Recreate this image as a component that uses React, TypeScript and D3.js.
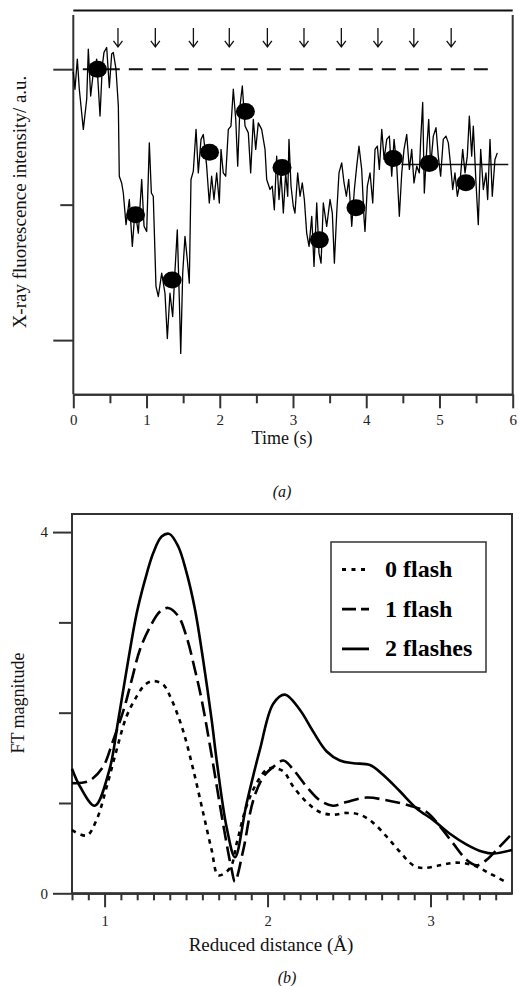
import * as React from 'react';
import * as d3 from 'd3';

// ---------- panel (a): fluorescence trace ----------
const TRACE: [number, number][] = [
    [0.0, 0.99], [0.023, 0.926], [0.055, 1.037], [0.082, 0.926], [0.137, 0.778], [0.183, 0.889], [0.205, 1.074],
    [0.237, 0.901], [0.273, 0.988], [0.319, 1.037], [0.365, 0.827], [0.396, 1.012], [0.419, 1.062], [0.456, 1.08],
    [0.492, 0.932], [0.524, 1.056], [0.546, 1.062], [0.583, 1.0], [0.615, 0.864], [0.628, 0.605], [0.66, 0.58],
    [0.683, 0.543], [0.72, 0.426], [0.765, 0.519], [0.806, 0.346], [0.843, 0.481], [0.888, 0.395], [0.934, 0.593],
    [0.966, 0.42], [1.002, 0.401], [1.038, 0.728], [1.066, 0.543], [1.092, 0.531], [1.129, 0.198], [1.161, 0.161],
    [1.207, 0.247], [1.252, 0.173], [1.284, 0.006], [1.32, 0.173], [1.357, 0.087], [1.389, 0.259], [1.42, 0.407],
    [1.448, 0.148], [1.467, -0.049], [1.494, 0.247], [1.525, 0.383], [1.557, 0.296], [1.584, 0.21], [1.607, 0.593],
    [1.639, 0.624], [1.676, 0.778], [1.707, 0.617], [1.744, 0.741], [1.775, 0.759], [1.798, 0.704], [1.821, 0.642],
    [1.857, 0.506], [1.889, 0.605], [1.921, 0.519], [1.958, 0.617], [1.994, 0.506], [2.017, 0.704], [2.048, 0.617],
    [2.081, 0.605], [2.117, 0.778], [2.153, 0.79], [2.185, 0.926], [2.218, 0.815], [2.245, 0.642], [2.276, 0.864],
    [2.308, 0.938], [2.345, 0.79], [2.39, 0.765], [2.422, 0.617], [2.458, 0.815], [2.491, 0.704], [2.526, 0.802],
    [2.572, 0.778], [2.618, 0.704], [2.641, 0.593], [2.686, 0.556], [2.717, 0.568], [2.745, 0.481], [2.777, 0.679],
    [2.809, 0.519], [2.836, 0.617], [2.868, 0.469], [2.9, 0.617], [2.928, 0.531], [2.945, 0.741], [2.973, 0.568],
    [3.004, 0.494], [3.027, 0.469], [3.064, 0.617], [3.096, 0.531], [3.127, 0.58], [3.155, 0.519], [3.187, 0.395],
    [3.219, 0.346], [3.256, 0.457], [3.287, 0.272], [3.324, 0.506], [3.355, 0.321], [3.383, 0.284], [3.414, 0.506],
    [3.46, 0.42], [3.506, 0.519], [3.537, 0.469], [3.565, 0.284], [3.597, 0.469], [3.628, 0.617], [3.665, 0.654],
    [3.697, 0.58], [3.729, 0.531], [3.761, 0.593], [3.802, 0.42], [3.838, 0.556], [3.87, 0.642], [3.901, 0.716],
    [3.938, 0.63], [3.97, 0.45], [3.983, 0.401], [4.015, 0.568], [4.052, 0.617], [4.089, 0.506], [4.12, 0.704],
    [4.152, 0.716], [4.179, 0.63], [4.212, 0.778], [4.244, 0.667], [4.28, 0.741], [4.316, 0.753], [4.348, 0.605],
    [4.38, 0.741], [4.417, 0.642], [4.452, 0.457], [4.485, 0.617], [4.516, 0.704], [4.553, 0.759], [4.589, 0.63],
    [4.621, 0.704], [4.652, 0.58], [4.69, 0.642], [4.725, 0.617], [4.744, 0.741], [4.771, 0.877], [4.793, 0.543],
    [4.826, 0.704], [4.853, 0.815], [4.88, 0.642], [4.916, 0.753], [4.953, 0.784], [4.984, 0.679], [5.016, 0.605],
    [5.052, 0.741], [5.089, 0.753], [5.121, 0.728], [5.153, 0.642], [5.181, 0.556], [5.212, 0.617], [5.244, 0.531],
    [5.28, 0.58], [5.317, 0.704], [5.349, 0.617], [5.38, 0.679], [5.408, 0.827], [5.44, 0.679], [5.462, 0.79],
    [5.499, 0.58], [5.53, 0.426], [5.563, 0.704], [5.599, 0.556], [5.635, 0.617], [5.658, 0.519], [5.69, 0.741],
    [5.721, 0.531], [5.758, 0.667], [5.79, 0.691]
];
const DOT_T = [0.33, 0.85, 1.35, 1.86, 2.35, 2.85, 3.36, 3.86, 4.37, 4.86, 5.36];
const DOT_V = [1.0, 0.463, 0.222, 0.693, 0.844, 0.637, 0.37, 0.489, 0.67, 0.652, 0.581];
const FLASH_T = [0.61, 1.12, 1.64, 2.13, 2.65, 3.15, 3.66, 4.16, 4.65, 5.16];
const BASE_LEVEL = 1.0;
const BASE_RANGE = [0.13, 5.78];
const END_LEVEL = 0.648;
const END_RANGE = [4.48, 5.94];
const TIME_TICKS = [0, 1, 2, 3, 4, 5, 6];

// ---------- panel (b): FT magnitude ----------
const FT_0: [number, number][] = [
    [0.8, 0.7], [0.89, 0.64], [0.95, 0.81], [1.013, 1.18], [1.074, 1.59], [1.135, 1.96], [1.197, 2.18], [1.248, 2.31],
    [1.3, 2.35], [1.36, 2.31], [1.412, 2.14], [1.48, 1.81], [1.544, 1.37], [1.605, 0.89], [1.657, 0.48], [1.698, 0.2],
    [1.77, 0.28], [1.81, 0.55], [1.87, 0.96], [1.933, 1.22], [1.994, 1.37], [2.03, 1.39], [2.097, 1.35], [2.158, 1.18],
    [2.24, 1.01], [2.32, 0.9], [2.4, 0.87], [2.485, 0.89], [2.567, 0.87], [2.648, 0.78], [2.73, 0.63], [2.812, 0.46],
    [2.894, 0.31], [2.955, 0.28], [3.058, 0.31], [3.16, 0.34], [3.262, 0.31], [3.364, 0.22], [3.467, 0.12]
];
const FT_1: [number, number][] = [
    [0.8, 1.22], [0.9, 1.24], [0.99, 1.4], [1.05, 1.68], [1.12, 2.05], [1.166, 2.36], [1.217, 2.7], [1.279, 2.95],
    [1.34, 3.12], [1.39, 3.16], [1.452, 3.07], [1.503, 2.84], [1.555, 2.47], [1.596, 2.14], [1.65, 1.6], [1.73, 0.74],
    [1.78, 0.26], [1.8, 0.13], [1.851, 0.48], [1.912, 1.03], [1.974, 1.29], [2.035, 1.4], [2.097, 1.47], [2.158, 1.37],
    [2.24, 1.18], [2.32, 1.03], [2.4, 0.97], [2.485, 1.01], [2.608, 1.06], [2.73, 1.03], [2.853, 0.98], [2.976, 0.9],
    [3.058, 0.74], [3.14, 0.55], [3.222, 0.37], [3.283, 0.31], [3.344, 0.37], [3.426, 0.52], [3.5, 0.66]
];
const FT_2: [number, number][] = [
    [0.8, 1.38], [0.85, 1.18], [0.94, 0.97], [1.03, 1.37], [1.084, 1.92], [1.145, 2.58], [1.197, 3.1], [1.248, 3.47],
    [1.299, 3.77], [1.35, 3.95], [1.397, 3.98], [1.452, 3.84], [1.503, 3.55], [1.555, 3.14], [1.605, 2.58],
    [1.657, 1.92], [1.69, 1.44], [1.75, 0.72], [1.8, 0.4], [1.872, 1.0], [1.953, 1.59], [2.035, 2.1], [2.107, 2.2],
    [2.199, 2.03], [2.28, 1.79], [2.363, 1.57], [2.444, 1.47], [2.526, 1.44], [2.628, 1.42], [2.71, 1.31],
    [2.812, 1.13], [2.915, 0.94], [3.017, 0.81], [3.119, 0.66], [3.222, 0.54], [3.32, 0.46], [3.385, 0.44], [3.5, 0.48]
];
const SERIES_NAMES = ['0 flash', '1 flash', '2 flashes'];
const SERIES_DASH = ['4.5,5', '15,6', 'none'];
const LEGEND_DASH = ['4,5.5', '14,5', 'none'];
const FT_TICKS = [0, 1, 2, 3, 4];
const FT_TICK_LABELS = ['0', '', '', '', '4'];
const DIST_MAJOR = [1, 2, 3];

const FONT = "'Liberation Serif', 'Times New Roman', 'DejaVu Serif', serif";
const FRAME = '#333';

const App: React.FC = () => {
    const svgRef = React.useRef<SVGSVGElement>(null);

    React.useEffect(() => {
        const svg = d3.select(svgRef.current);
        svg.selectAll('*').remove();

        const txt = (g: any) => g.append('text').style('font-family', FONT).attr('fill', '#111');

        /** ******** Panel (a) ********* */
        const xA = d3.scaleLinear().domain([0, 6]).range([73.3, 512.7]);
        const yA = d3.scaleLinear().domain([-0.2, 1.2]).range([394.3, 15]);
        const gA = svg.append('g');

        // frame
        gA.append('line').attr('x1', xA(0)).attr('x2', xA(6)).attr('y1', 10.5).attr('y2', 10.5)
            .attr('stroke', '#111').attr('stroke-width', 2);
        [0, 6].forEach(t => {
            gA.append('line').attr('x1', xA(t)).attr('x2', xA(t)).attr('y1', yA(1.2)).attr('y2', yA(-0.2))
                .attr('stroke', FRAME).attr('stroke-width', 2);
        });

        // x axis
        const xAxisA = d3.axisBottom(xA).tickValues(TIME_TICKS).tickSize(14).tickPadding(6)
            .tickSizeOuter(0).tickFormat(d3.format('d'));
        const xMinorA = d3.axisBottom(xA).tickValues(d3.range(0.5, 6, 1)).tickSize(9)
            .tickSizeOuter(0).tickFormat(() => '');
        [xAxisA, xMinorA].forEach(ax => {
            const gx = gA.append('g').attr('transform', `translate(0,${yA(-0.2)})`).call(ax as any);
            gx.select('.domain').attr('stroke', FRAME).attr('stroke-width', 2);
            gx.selectAll('.tick line').attr('stroke', FRAME).attr('stroke-width', 2);
            gx.selectAll('.tick text').style('font-family', FONT).attr('font-size', 15).attr('fill', '#222');
        });

        // y ticks (no labels)
        const yAxisA = d3.axisLeft(yA).tickValues([0, 1]).tickSize(20).tickSizeOuter(0).tickFormat(() => '');
        const yMinorA = d3.axisLeft(yA).tickValues([0.5]).tickSize(13).tickSizeOuter(0).tickFormat(() => '');
        [yAxisA, yMinorA].forEach(ax => {
            const gy = gA.append('g').attr('transform', `translate(${xA(0)},0)`).call(ax as any);
            gy.select('.domain').remove();
            gy.selectAll('.tick line').attr('stroke', FRAME).attr('stroke-width', 2);
        });

        // baseline reference (dashed) and end level (solid)
        gA.append('line').attr('x1', xA(BASE_RANGE[0])).attr('x2', xA(BASE_RANGE[1]))
            .attr('y1', yA(BASE_LEVEL)).attr('y2', yA(BASE_LEVEL))
            .attr('stroke', '#111').attr('stroke-width', 2).attr('stroke-dasharray', '14,9');
        gA.append('line').attr('x1', xA(END_RANGE[0])).attr('x2', xA(END_RANGE[1]))
            .attr('y1', yA(END_LEVEL)).attr('y2', yA(END_LEVEL))
            .attr('stroke', '#111').attr('stroke-width', 1.5);

        // trace
        const traceLine = d3.line<[number, number]>().x(d => xA(d[0])).y(d => yA(d[1]));
        gA.append('path').datum(TRACE).attr('d', traceLine).attr('fill', 'none')
            .attr('stroke', '#000').attr('stroke-width', 1.3).attr('stroke-linejoin', 'round');

        // dots
        gA.selectAll('ellipse.dot').data(DOT_T).enter().append('ellipse')
            .attr('class', 'dot')
            .attr('cx', d => xA(d)).attr('cy', (d, i) => yA(DOT_V[i]))
            .attr('rx', 9.5).attr('ry', 8.5).attr('fill', '#000');

        // flash arrows
        FLASH_T.forEach(t => {
            const x = xA(t);
            const y0 = yA(1.152);
            const y1 = yA(1.082);
            gA.append('path')
                .attr('d', `M${x},${y0}L${x},${y1}M${x - 4.5},${y1 - 6}L${x},${y1}L${x + 4.5},${y1 - 6}`)
                .attr('fill', 'none').attr('stroke', '#111').attr('stroke-width', 1.3);
        });

        // labels
        txt(gA).attr('x', 282).attr('y', 444).attr('text-anchor', 'middle')
            .attr('font-size', 18).text('Time (s)');
        txt(gA).attr('transform', 'translate(26,202) rotate(-90)').attr('text-anchor', 'middle')
            .attr('font-size', 19).text('X-ray fluorescence intensity/ a.u.');
        txt(gA).attr('x', 282).attr('y', 497).attr('text-anchor', 'middle')
            .attr('font-size', 16).attr('font-style', 'italic').text('(a)');

        /** ******** Panel (b) ********* */
        const xB = d3.scaleLinear().domain([0.8, 3.5]).range([72, 512]);
        const yB = d3.scaleLinear().domain([0, 4.2]).range([893.3, 514]);
        const gB = svg.append('g');

        // frame
        gB.append('rect').attr('x', xB(0.8)).attr('y', yB(4.2)).attr('width', xB(3.5) - xB(0.8))
            .attr('height', yB(0) - yB(4.2)).attr('fill', 'none').attr('stroke', FRAME).attr('stroke-width', 2);

        // x axis
        const minorB = d3.range(9, 35).map(v => v / 10).filter(v => !DIST_MAJOR.includes(v));
        const xAxisB = d3.axisBottom(xB).tickValues(DIST_MAJOR).tickSize(14).tickPadding(8)
            .tickSizeOuter(0).tickFormat(d3.format('d'));
        const xMinorB = d3.axisBottom(xB).tickValues([0.8, ...minorB]).tickSize(7)
            .tickSizeOuter(0).tickFormat(() => '');
        [xAxisB, xMinorB].forEach(ax => {
            const gx = gB.append('g').attr('transform', `translate(0,${yB(0)})`).call(ax as any);
            gx.select('.domain').attr('stroke', FRAME).attr('stroke-width', 2);
            gx.selectAll('.tick line').attr('stroke', FRAME).attr('stroke-width', 2);
            gx.selectAll('.tick text').style('font-family', FONT).attr('font-size', 14.5).attr('fill', '#222');
        });

        // y axis
        const yAxisB = d3.axisLeft(yB).tickValues(FT_TICKS).tickSizeOuter(0)
            .tickSize(13).tickPadding(6).tickFormat((d, i) => FT_TICK_LABELS[i]);
        const gy = gB.append('g').attr('transform', `translate(${xB(0.8)},0)`).call(yAxisB as any);
        gy.select('.domain').remove();
        gy.selectAll('.tick line').attr('stroke', FRAME).attr('stroke-width', 2)
            .attr('x2', (d: any) => (d === 0 || d === 4 ? -19 : -13));
        gy.selectAll('.tick text').style('font-family', FONT).attr('font-size', 15).attr('fill', '#222')
            .attr('x', -24);

        // curves
        const ftLine = d3.line<[number, number]>().x(d => xB(d[0])).y(d => yB(d[1]))
            .curve(d3.curveCatmullRom.alpha(0.5));
        [FT_0, FT_1, FT_2].forEach((s, i) => {
            gB.append('path').datum(s).attr('d', ftLine).attr('fill', 'none')
                .attr('stroke', '#000').attr('stroke-width', 2.6)
                .attr('stroke-dasharray', SERIES_DASH[i]);
        });

        // legend
        const lg = gB.append('g');
        lg.append('rect').attr('x', 331).attr('y', 542).attr('width', 155).attr('height', 130)
            .attr('fill', '#fff').attr('stroke', FRAME).attr('stroke-width', 1.5);
        SERIES_NAMES.forEach((name, i) => {
            const base = 577 + i * 39.7;
            lg.append('line').attr('x1', 342).attr('x2', 369).attr('y1', base - 7.5).attr('y2', base - 7.5)
                .attr('stroke', '#000').attr('stroke-width', 2.8)
                .attr('stroke-dasharray', LEGEND_DASH[i]);
            txt(lg).attr('x', 385).attr('y', base)
                .attr('font-size', 24).attr('font-weight', 'bold').attr('fill', '#000').text(name);
        });

        // labels
        txt(gB).attr('x', 271).attr('y', 951).attr('text-anchor', 'middle')
            .attr('font-size', 19).text('Reduced distance (Å)');
        txt(gB).attr('transform', 'translate(24,703) rotate(-90)').attr('text-anchor', 'middle')
            .attr('font-size', 18).text('FT magnitude');
        txt(gB).attr('x', 287).attr('y', 983).attr('text-anchor', 'middle')
            .attr('font-size', 16).attr('font-style', 'italic').text('(b)');
    }, []);

    return (
        <svg
            ref={svgRef}
            width={519}
            height={986}
            style={{ position: 'absolute', left: 0, top: 0, background: '#fff' }}
        />
    );
};

export default App;
